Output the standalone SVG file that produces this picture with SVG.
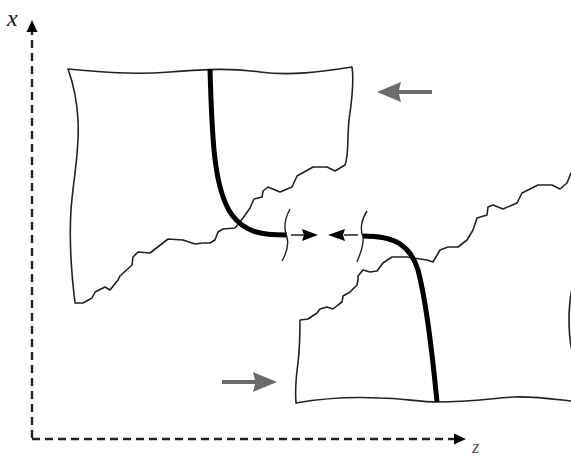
<svg xmlns="http://www.w3.org/2000/svg" width="571" height="458" viewBox="0 0 571 458">
  <defs>
    <style>
      .edge { fill: #fff; stroke: #222; stroke-width: 1.6; stroke-linejoin: round; }
      .ligament { fill: none; stroke: #000; stroke-width: 5; stroke-linecap: butt; }
      .crack { fill: none; stroke: #222; stroke-width: 1.4; }
      .axis { fill: none; stroke: #222; stroke-width: 2.4; stroke-dasharray: 8 5; }
      .push { fill: #6b6b6b; }
      .tip { fill: #000; }
      .label { font-family: "Liberation Serif", "DejaVu Serif", serif; font-style: italic; }
    </style>
  </defs>

  <!-- coordinate axes -->
  <g id="axes">
    <path class="axis" d="M32,438 L32,32"/>
    <path class="axis" d="M32,439 L455,439"/>
    <polygon class="tip" points="32,20 26.5,32 37.5,32"/>
    <polygon class="tip" points="466,439 454,433.5 454,444.5"/>
    <text class="label" x="7" y="26" font-size="24" fill="#111">x</text>
    <text class="label" x="472" y="453" font-size="19" fill="#555">z</text>
  </g>

  <!-- upper block -->
  <g id="upper-block">
    <path class="edge" d="M68,69 C100,72 130,75 170,72 S230,68 260,72 S320,72 352,67
      C354,80 352,100 349,120 C347,140 349,155 345,165
      L335,171 L327,167 L313,167 L297,176 L292,187 L280,192 L268,187 L263,191 L262,197
      L254,199 L250,208 L243,218 L235,228 L223,229 L218,232 L215,240 L210,243 L203,243
      L195,244 L183,240 L168,239 L150,253 L138,252 L133,257 L132,265 L120,276 L118,280
      L110,290 L105,287 L95,292 L92,298 L83,303 L75,303
      C71,270 69,240 71,210 C73,180 80,150 78,120 C77,100 72,80 68,69 Z"/>
    <path class="ligament" d="M210,69 C212,140 214,190 232,215 C245,232 260,235 287,235"/>
    <path class="crack" d="M290,209 C284,220 284,230 287,237 C289,245 286,254 282,261"/>
  </g>

  <!-- lower block -->
  <g id="lower-block">
    <path class="edge" d="M300,320 L308,319 L317,313 L320,309 L327,307 L333,309 L338,305 L342,302
      L343,296 L350,292 L357,285 L358,280 L358,276 L363,270 L370,272 L377,271 L383,263
      L392,257 L407,257 L413,258 L427,260 L433,262 L440,250 L448,247 L458,247 L467,240
      L473,230 L477,218 L487,215 L488,207 L493,205 L503,209 L517,203 L522,193 L538,185
      L552,185 L560,189 L567,183 L571,173 L580,170 L580,270
      L578,270 Q569,290 569,320 Q569,350 578,370 L580,402 L571,401
      C545,398 530,396 513,397 C495,398 470,402 437,402 C420,402 400,398 380,398
      C360,397 330,397 296,403 C295,390 297,370 298,363 C300,345 300,330 300,320 Z"/>
    <path class="ligament" d="M363,236 C395,236 410,245 418,270 C426,300 432,350 437,402"/>
    <path class="crack" d="M367,211 C361,220 360,230 363,237 C364,246 360,254 357,262"/>
  </g>

  <!-- load and closing arrows -->
  <g id="connectors">
    <path class="push" d="M432,90 L399,90 L401,82 L377,92 L401,102 L399,94 L432,94 Z"/>
    <path class="push" d="M222,380 L255,380 L253,372 L277,382 L253,392 L255,384 L222,384 Z"/>
    <line x1="291" y1="235" x2="304" y2="235" stroke="#222" stroke-width="1.5"/>
    <polygon class="tip" points="318,235 302,229 304,235 302,241"/>
    <line x1="344" y1="235" x2="358" y2="235" stroke="#222" stroke-width="1.5"/>
    <polygon class="tip" points="328,235 345,229 343,235 345,241"/>
  </g>
</svg>
